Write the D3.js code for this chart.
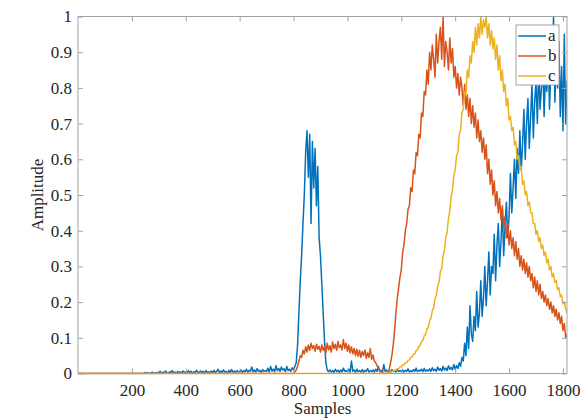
<!DOCTYPE html>
<html>
<head>
<meta charset="utf-8">
<script src="https://cdn.jsdelivr.net/npm/d3@7"></script>
<style>
  body { margin: 0; background: #fff; }
  svg { display: block; font-family: "Liberation Serif", "Times New Roman", serif; }
</style>
</head>
<body>
<div class="line-chart-container"></div>
<script>
//Data
//sample step of the recorded signal (every value below is 5 samples apart, starting at 0)
const sampleStep = 5;
const lastSample = 1815;
const xTicks = [200, 400, 600, 800, 1000, 1200, 1400, 1600, 1800];
const yTicks = [0, 0.1, 0.2, 0.3, 0.4, 0.5, 0.6, 0.7, 0.8, 0.9, 1];
const seriesNames = ['a', 'b', 'c'];
const seriesColors = ['#0072BD', '#D95319', '#EDB120'];

//a : blue
const aValues = [
  0,0,0,0,0,0,0,0,0,0,0,0,0,0,0,0,0,0,0,0,
  0,0,0,0,0,0,0,0,0,0,0,0,0,0,0,0,0,0,0,0,
  0,0,0,0,0,0,0,0,0,0,0.003,0,0.002,0,0,0.004,0,0.002,0,0.003,
  0.002,0.006,0,0.004,0.001,0.007,0.002,0,0.005,0.003,0.008,0.001,0.004,0,0.006,0.002,0.005,0.001,0.007,0.003,
  0.004,0.001,0.008,0.002,0.006,0,0.005,0.003,0.009,0.001,0.004,0.007,0.002,0.006,0.001,0.008,0.003,0.005,0.002,0.007,
  0.003,0.009,0.002,0.006,0.012,0.003,0.007,0.002,0.01,0.004,0.006,0.001,0.009,0.003,0.011,0.004,0.007,0.002,0.008,0.005,
  0.004,0.01,0.003,0.008,0.005,0.012,0.004,0.009,0.006,0.018,0.005,0.01,0.004,0.014,0.006,0.009,0.003,0.011,0.006,0.008,
  0.006,0.015,0.004,0.02,0.007,0.012,0.005,0.022,0.008,0.014,0.006,0.018,0.009,0.013,0.005,0.02,0.008,0.012,0.006,0.016,
  0.01,0.02,0.03,0.08,0.17,0.26,0.33,0.42,0.5,0.62,0.68,0.55,0.67,0.42,0.65,0.52,0.63,0.47,0.58,0.38,
  0.33,0.25,0.17,0.09,0.03,0.01,0.005,0.01,0.004,0.008,0.003,0.012,0.005,0.009,0.003,0.01,0.004,0.015,0.006,0.008,
  0.005,0.012,0.004,0.035,0.006,0.01,0.003,0.012,0.005,0.008,0.004,0.011,0.003,0.009,0.006,0.014,0.004,0.008,0.005,0.01,
  0.004,0.012,0.006,0.02,0.005,0.009,0.003,0.025,0.006,0.01,0.004,0.008,0.003,0.011,0.005,0.009,0.004,0.012,0.006,0.008,
  0.005,0.01,0.004,0.009,0.006,0.013,0.004,0.008,0.005,0.011,0.006,0.015,0.005,0.009,0.007,0.012,0.005,0.014,0.006,0.01,
  0.007,0.013,0.006,0.016,0.008,0.012,0.006,0.018,0.009,0.014,0.007,0.02,0.01,0.015,0.008,0.022,0.012,0.017,0.01,0.025,
  0.012,0.022,0.014,0.03,0.02,0.045,0.035,0.085,0.05,0.13,0.07,0.19,0.11,0.09,0.16,0.12,0.23,0.13,0.17,0.26,
  0.16,0.21,0.3,0.19,0.26,0.34,0.22,0.3,0.28,0.39,0.26,0.36,0.42,0.3,0.37,0.46,0.33,0.41,0.48,0.38,
  0.44,0.56,0.45,0.52,0.6,0.49,0.63,0.56,0.68,0.57,0.64,0.74,0.6,0.7,0.77,0.63,0.72,0.81,0.66,0.76,
  0.82,0.7,0.86,0.74,0.8,0.88,0.72,0.84,0.79,0.91,0.74,0.85,0.82,1.0,0.76,0.87,0.8,0.93,0.72,0.86,
  0.68,0.95,0.7,0.82
];

//b : orange
const bValues = [
  0,0,0,0,0,0,0,0,0,0,0,0,0,0,0,0,0,0,0,0,
  0,0,0,0,0,0,0,0,0,0,0,0,0,0,0,0,0,0,0,0,
  0,0,0,0,0,0,0,0,0,0,0,0,0,0,0,0,0,0,0,0,
  0,0,0,0,0,0,0,0,0,0,0,0,0,0,0,0,0,0,0,0,
  0,0,0,0,0,0,0,0,0,0,0,0,0,0,0,0,0,0,0,0,
  0,0,0,0,0,0,0,0,0,0,0,0,0,0,0,0,0,0,0,0,
  0,0,0,0,0,0,0,0,0,0,0,0,0,0,0,0,0,0,0,0,
  0,0,0,0,0,0,0,0,0,0,0,0,0,0,0,0,0,0,0,0,
  0,0.005,0.01,0.02,0.035,0.05,0.045,0.065,0.055,0.075,0.06,0.08,0.065,0.085,0.07,0.078,0.062,0.082,0.068,0.076,
  0.06,0.08,0.065,0.075,0.058,0.085,0.066,0.078,0.06,0.088,0.07,0.082,0.065,0.09,0.072,0.08,0.066,0.095,0.07,0.085,
  0.062,0.08,0.058,0.075,0.055,0.07,0.05,0.068,0.048,0.065,0.045,0.062,0.05,0.066,0.042,0.058,0.045,0.07,0.04,0.052,
  0.035,0.03,0.022,0.015,0.01,0.005,0.002,0,0,0,0.003,0.01,0.03,0.05,0.08,0.12,0.17,0.21,0.24,0.27,
  0.29,0.34,0.36,0.4,0.42,0.46,0.47,0.52,0.51,0.57,0.56,0.62,0.61,0.67,0.66,0.73,0.72,0.79,0.78,0.85,
  0.81,0.9,0.85,0.92,0.88,0.83,0.95,0.87,0.93,0.97,0.88,1.0,0.86,0.93,0.9,0.85,0.94,0.87,0.91,0.83,
  0.86,0.8,0.84,0.78,0.83,0.8,0.75,0.81,0.74,0.78,0.72,0.77,0.7,0.75,0.69,0.73,0.66,0.71,0.65,0.68,
  0.62,0.66,0.6,0.64,0.56,0.6,0.53,0.57,0.5,0.54,0.47,0.51,0.45,0.49,0.43,0.47,0.41,0.44,0.38,0.42,
  0.36,0.4,0.35,0.38,0.33,0.37,0.32,0.35,0.3,0.33,0.29,0.32,0.28,0.31,0.27,0.3,0.26,0.28,0.24,0.27,
  0.23,0.26,0.22,0.25,0.21,0.23,0.2,0.22,0.19,0.21,0.18,0.2,0.17,0.19,0.16,0.18,0.15,0.17,0.14,0.16,
  0.12,0.14,0.1,0.11
];

//c : yellow
const cValues = [
  0,0,0,0,0,0,0,0,0,0,0,0,0,0,0,0,0,0,0,0,
  0,0,0,0,0,0,0,0,0,0,0,0,0,0,0,0,0,0,0,0,
  0,0,0,0,0,0,0,0,0,0,0,0,0,0,0,0,0,0,0,0,
  0,0,0,0,0,0,0,0,0,0,0,0,0,0,0,0,0,0,0,0,
  0,0,0,0,0,0,0,0,0,0,0,0,0,0,0,0,0,0,0,0,
  0,0,0,0,0,0,0,0,0,0,0,0,0,0,0,0,0,0,0,0,
  0,0,0,0,0,0,0,0,0,0,0,0,0,0,0,0,0,0,0,0,
  0,0,0,0,0,0,0,0,0,0,0,0,0,0,0,0,0,0,0,0,
  0,0,0,0,0,0,0,0,0,0,0,0,0,0,0,0,0,0,0,0,
  0,0,0,0,0,0,0,0,0,0,0,0,0,0,0,0,0,0,0,0,
  0,0,0,0,0,0,0,0,0,0,0,0,0,0,0,0,0,0,0,0,
  0,0,0,0,0,0,0,0,0,0,0.002,0.004,0.003,0.006,0.006,0.009,0.009,0.013,0.013,0.018,
  0.019,0.024,0.024,0.03,0.03,0.037,0.038,0.045,0.046,0.054,0.055,0.064,0.066,0.076,0.078,0.09,0.092,0.106,0.109,0.125,
  0.128,0.148,0.154,0.176,0.184,0.21,0.218,0.245,0.255,0.286,0.295,0.33,0.345,0.38,0.395,0.435,0.455,0.495,0.515,0.555,
  0.57,0.61,0.62,0.67,0.68,0.73,0.74,0.79,0.78,0.85,0.83,0.89,0.87,0.93,0.9,0.97,0.92,0.98,0.94,1.0,
  0.95,0.99,0.97,1.0,0.94,0.98,0.92,0.96,0.91,0.94,0.88,0.92,0.85,0.89,0.82,0.85,0.79,0.81,0.75,0.77,
  0.71,0.72,0.68,0.69,0.64,0.65,0.6,0.61,0.57,0.58,0.53,0.54,0.5,0.51,0.47,0.48,0.45,0.45,0.42,0.42,
  0.39,0.4,0.37,0.38,0.35,0.36,0.33,0.34,0.31,0.32,0.29,0.3,0.27,0.28,0.255,0.26,0.235,0.24,0.215,0.22,
  0.195,0.2,0.18,0.17
];

//put the arrays into series objects
function prepareSeries(){
    const allValues = [aValues, bValues, cValues];
    return seriesNames.map((name, i) => ({
        name: name,
        color: seriesColors[i],
        values: allValues[i].map((v, j) => ({sample: j * sampleStep, value: v}))
    }));
}

function setupCanvas(series){
    const svg_width = 580;
    const svg_height = 418;
    const chart_margin = {top: 16.5, right: 13, bottom: 44.5, left: 78};
    const chart_width = svg_width - (chart_margin.left + chart_margin.right);
    const chart_height = svg_height - (chart_margin.top + chart_margin.bottom);
    const axisColor = '#a3a3a3';
    const textColor = '#262626';
    const serif = '"Liberation Serif", "Times New Roman", serif';

    const svg = d3.select('.line-chart-container').append('svg')
        .attr('width', svg_width).attr('height', svg_height);
    const this_svg = svg.append('g')
        .attr('transform', `translate(${chart_margin.left},${chart_margin.top})`);

    //scale
    const xScale = d3.scaleLinear().domain([0, lastSample]).range([0, chart_width]);
    const yScale = d3.scaleLinear().domain([0, 1]).range([chart_height, 0]);

    //clip so spikes stay inside the box
    svg.append('defs').append('clipPath').attr('id', 'plot-clip')
        .append('rect').attr('x', 0).attr('y', -1)
        .attr('width', chart_width).attr('height', chart_height + 2);

    //line generator
    const lineGen = d3.line()
        .x(d => xScale(d.sample))
        .y(d => yScale(d.value));

    //Draw lines
    const chartGroup = this_svg.append('g').attr('class', 'line-chart')
        .attr('clip-path', 'url(#plot-clip)');
    chartGroup.selectAll('.line-series')
        .data(series)
        .enter()
        .append('path')
        .attr('class', d => `line-series ${d.name}`)
        .attr('d', d => lineGen(d.values))
        .style('fill', 'none').style('stroke', d => d.color)
        .style('stroke-width', 1.5).style('stroke-linejoin', 'round');

    //axes : ticks point inward, on all four sides
    const fmtY = d => d === 0 || d === 1 ? String(d) : d3.format('.1f')(d);
    const xAxis = d3.axisBottom(xScale).tickValues(xTicks).tickFormat(d3.format('d'))
        .tickSizeInner(-5).tickSizeOuter(0).tickPadding(10);
    const yAxis = d3.axisLeft(yScale).tickValues(yTicks).tickFormat(fmtY)
        .tickSizeInner(-5).tickSizeOuter(0).tickPadding(6);
    const xAxisTop = d3.axisTop(xScale).tickValues(xTicks).tickFormat('').tickSizeInner(-5).tickSizeOuter(0);
    const yAxisRight = d3.axisRight(yScale).tickValues(yTicks).tickFormat('').tickSizeInner(-5).tickSizeOuter(0);

    this_svg.append('g').attr('class', 'x axis')
        .attr('transform', `translate(0,${chart_height})`).call(xAxis);
    this_svg.append('g').attr('class', 'y axis').call(yAxis);
    this_svg.append('g').attr('class', 'x axis top').call(xAxisTop);
    this_svg.append('g').attr('class', 'y axis right')
        .attr('transform', `translate(${chart_width},0)`).call(yAxisRight);

    this_svg.selectAll('.axis').attr('font-family', serif).attr('font-size', 17);
    this_svg.selectAll('.axis path.domain').remove();
    this_svg.selectAll('.axis line').style('stroke', axisColor).style('stroke-width', 1);
    this_svg.selectAll('.axis text')
        .style('font-family', serif)
        .style('font-size', '17px').style('fill', textColor);

    //box
    this_svg.append('rect').attr('class', 'box')
        .attr('x', 0).attr('y', 0).attr('width', chart_width).attr('height', chart_height)
        .style('fill', 'none').style('stroke', axisColor).style('stroke-width', 1);

    //axis titles
    this_svg.append('text').attr('class', 'x-title')
        .attr('x', chart_width / 2).attr('y', chart_height + 40.5)
        .attr('text-anchor', 'middle')
        .style('font-family', serif).style('font-size', '17px').style('fill', textColor)
        .text('Samples');
    this_svg.append('text').attr('class', 'y-title')
        .attr('transform', `translate(${43 - chart_margin.left},${chart_height / 2}) rotate(-90)`)
        .attr('text-anchor', 'middle')
        .style('font-family', serif).style('font-size', '17px').style('fill', textColor)
        .text('Amplitude');

    //legend (top right)
    const legend = svg.append('g').attr('class', 'legend')
        .attr('transform', 'translate(516,25)');
    legend.append('rect')
        .attr('width', 43).attr('height', 60)
        .style('fill', '#fff').style('stroke', axisColor).style('stroke-width', 1);
    const items = legend.selectAll('.legend-item').data(series).enter()
        .append('g').attr('class', 'legend-item')
        .attr('transform', (d, i) => `translate(0,${11 + i * 20})`);
    items.append('line')
        .attr('x1', 2).attr('x2', 30).attr('y1', 0).attr('y2', 0)
        .style('stroke', d => d.color).style('stroke-width', 1.5);
    items.append('text')
        .attr('x', 32).attr('y', 0).attr('dy', '0.32em')
        .style('font-family', serif).style('font-size', '17px').style('fill', textColor)
        .text(d => d.name);
}

//Main
function ready(){
    const series = prepareSeries();
    setupCanvas(series);
}
ready();
</script>
</body>
</html>
